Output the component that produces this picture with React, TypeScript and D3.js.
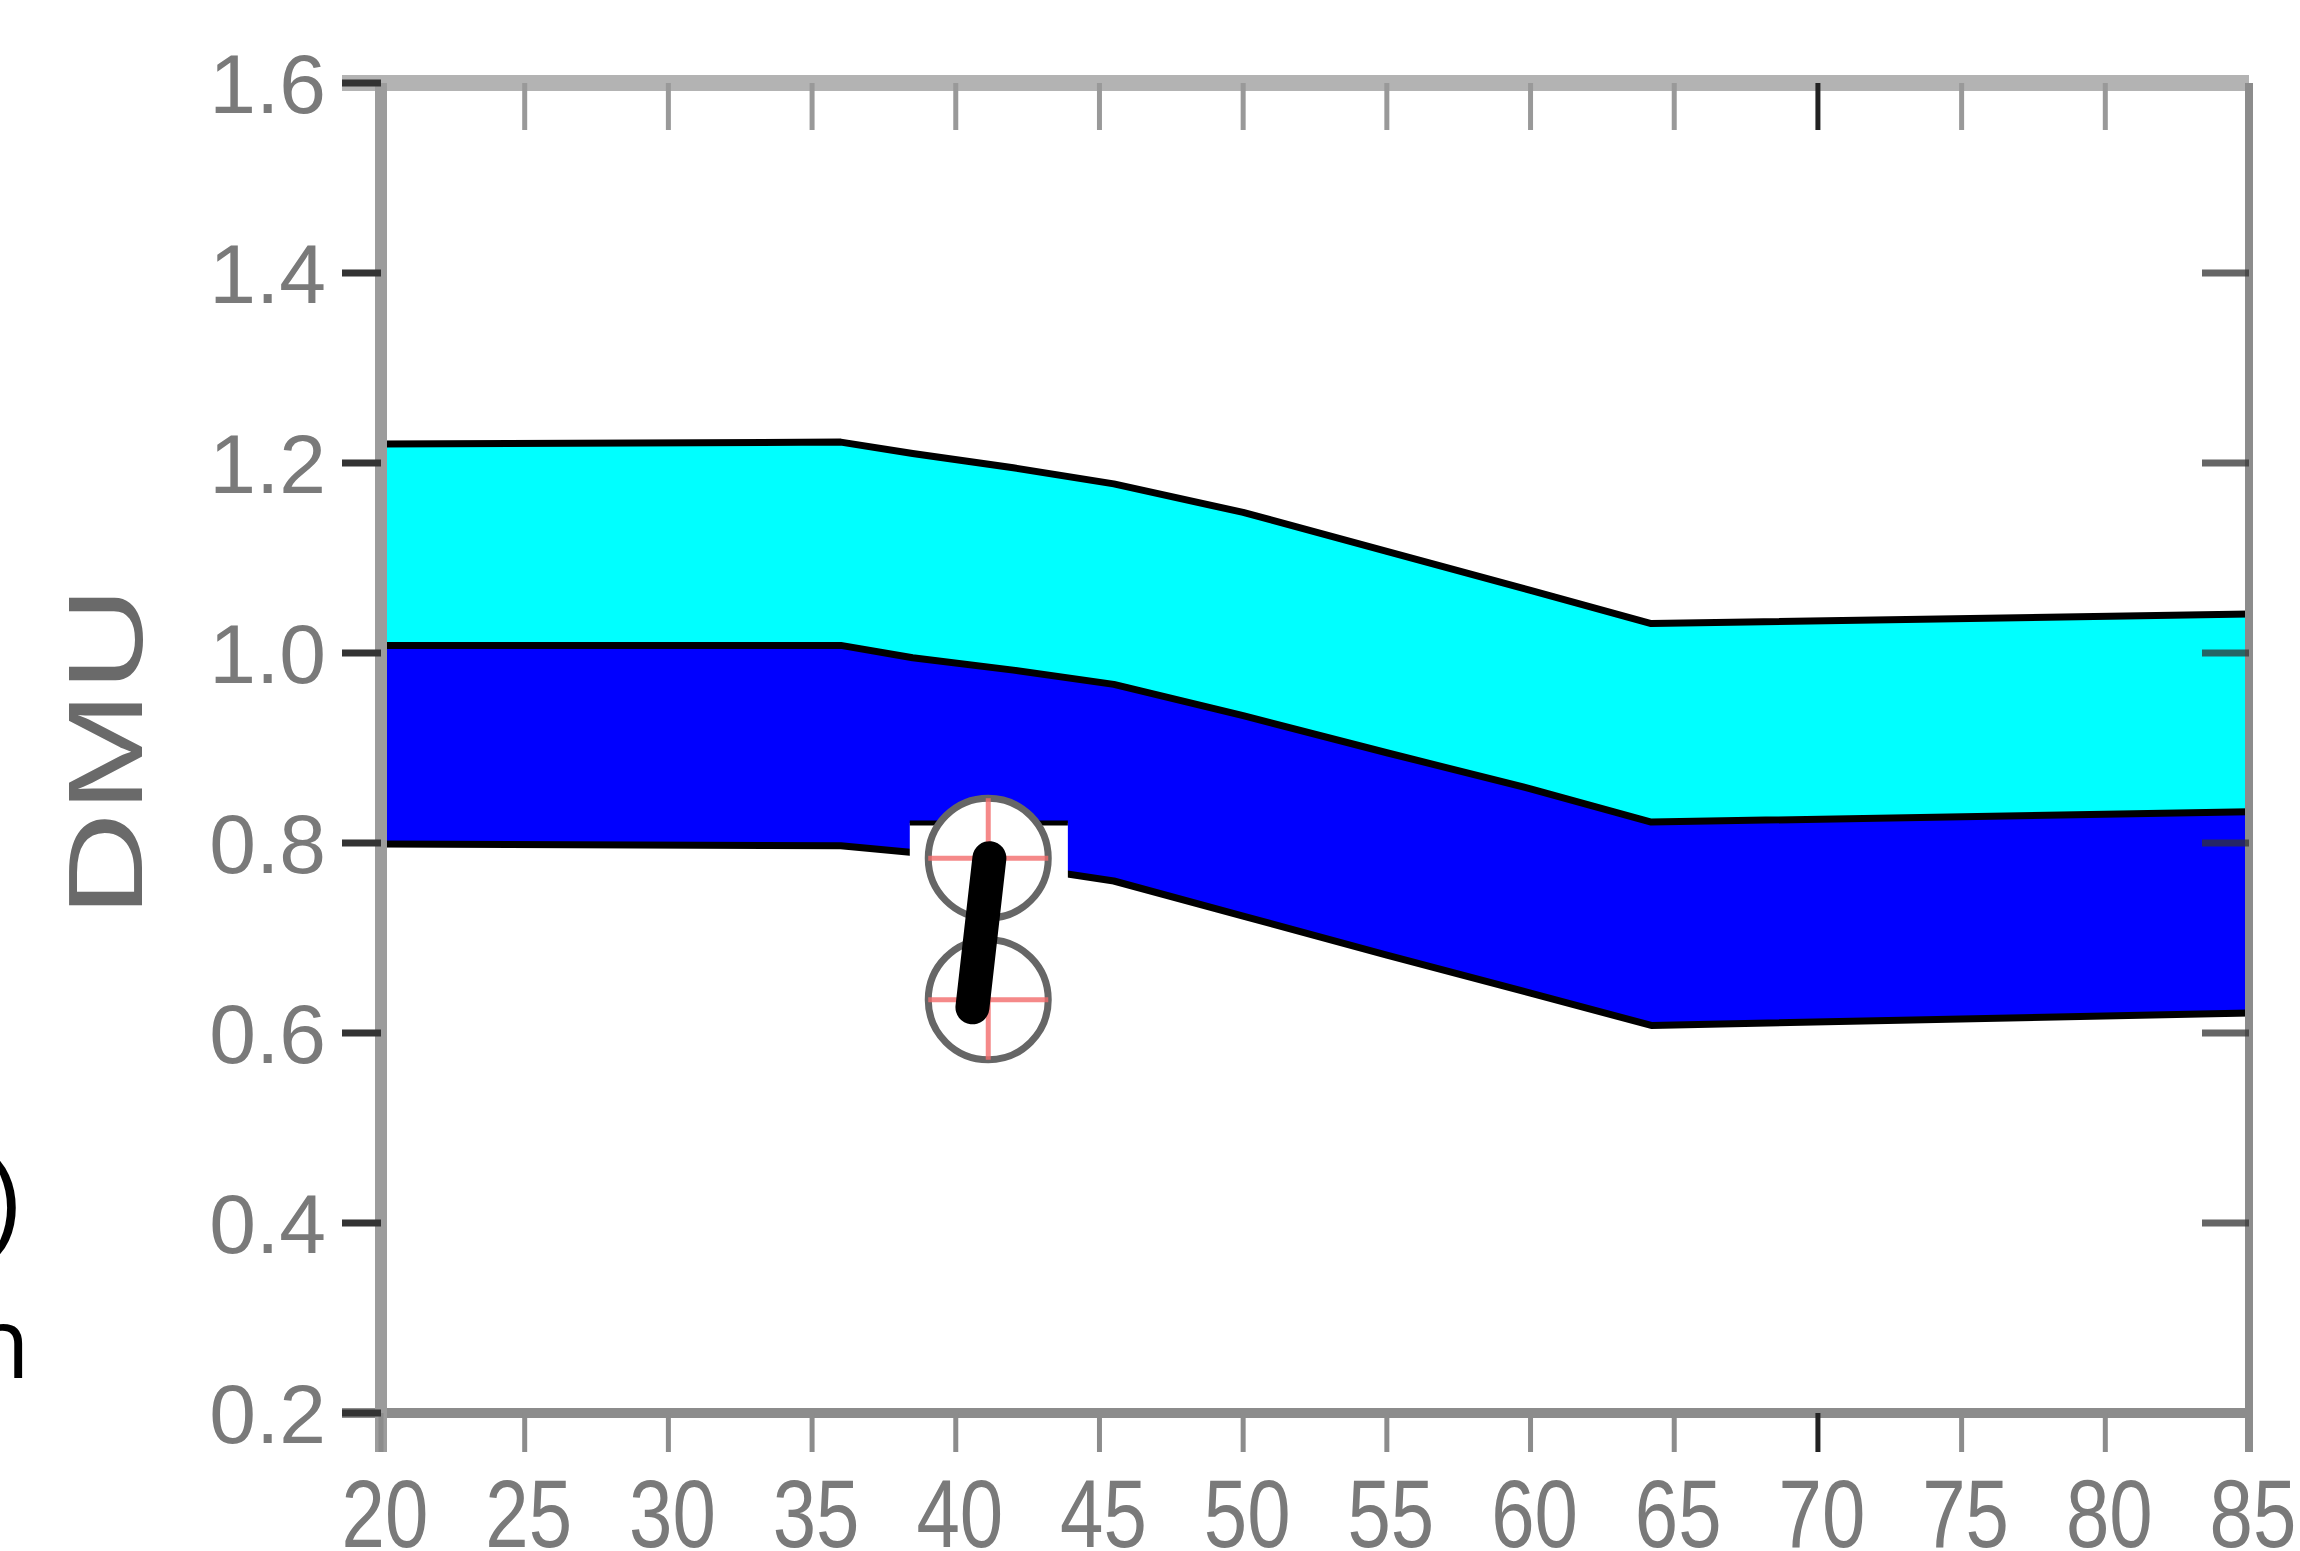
import React from 'react';
import * as d3 from 'd3';

const W = 2300;
const H = 1551;
// plot frame in pixels
const frame = { left: 381, right: 2249, top: 83, bottom: 1413 };

// band boundaries (x = age, y = DMU)
const ages = [20, 36, 38.5, 42, 45.5, 50, 55, 60, 64.2, 85];
const upperBound = [1.22, 1.222, 1.21, 1.195, 1.178, 1.148, 1.107, 1.066, 1.031, 1.041];
const middleBound = [1.008, 1.008, 0.995, 0.982, 0.967, 0.934, 0.895, 0.857, 0.822, 0.833];
const lowerBound = [0.799, 0.797, 0.79, 0.776, 0.76, 0.723, 0.682, 0.642, 0.608, 0.621];

const xTicks = [20, 25, 30, 35, 40, 45, 50, 55, 60, 65, 70, 75, 80, 85];
const yTicks = [0.2, 0.4, 0.6, 0.8, 1.0, 1.2, 1.4, 1.6];

// the two pasted-in markers and the bar that joins them
const markerAges = [41.13, 41.13];
const markerValues = [0.784, 0.635];
const barAges = [41.17, 40.58];
const barValues = [0.784, 0.627];
// white patch behind the markers
const patchAges = [38.4, 43.9];
const patchValues = [0.821, 0.7];

export default function App() {
  const x = d3.scaleLinear().domain([20, 85]).range([frame.left, frame.right]);
  const y = d3.scaleLinear().domain([0.2, 1.6]).range([frame.bottom, frame.top]);

  const rows = ages.map((a, i) => ({
    age: a,
    up: upperBound[i],
    mid: middleBound[i],
    low: lowerBound[i],
  }));

  const cyanArea = d3
    .area<any>()
    .x(d => x(d.age))
    .y0(d => y(d.mid))
    .y1(d => y(d.up));
  const blueArea = d3
    .area<any>()
    .x(d => x(d.age))
    .y0(d => y(d.low))
    .y1(d => y(d.mid));
  const edge = (key: string) =>
    d3
      .line<any>()
      .x(d => x(d.age))
      .y(d => y(d[key]))(rows) as string;

  const r = 60;
  const tickFont = "'Liberation Sans', Arial, sans-serif";

  return (
    <svg
      width={W}
      height={H}
      style={{ position: 'absolute', left: 0, top: 0, background: '#fff' }}
    >
      <rect x={0} y={0} width={W} height={H} fill="#fff" />

      {/* bands */}
      <path d={cyanArea(rows) as string} fill="#00ffff" />
      <path d={blueArea(rows) as string} fill="#0000ff" />
      {['up', 'mid', 'low'].map(k => (
        <path key={k} d={edge(k)} fill="none" stroke="#000" strokeWidth={7} strokeLinejoin="round" />
      ))}

      {/* white patch behind the markers */}
      <rect
        x={x(patchAges[0])}
        y={y(patchValues[0])}
        width={x(patchAges[1]) - x(patchAges[0])}
        height={y(patchValues[1]) - y(patchValues[0])}
        fill="#fff"
      />
      <line
        x1={x(patchAges[0])}
        x2={x(patchAges[1])}
        y1={y(patchValues[0])}
        y2={y(patchValues[0])}
        stroke="#000"
        strokeWidth={5}
      />

      {/* markers */}
      {markerAges.map((a, i) => {
        const cx = x(a);
        const cy = y(markerValues[i]);
        return (
          <g key={i}>
            <circle cx={cx} cy={cy} r={r} fill="#fff" stroke="#666" strokeWidth={7} />
            <line x1={cx - r} x2={cx + r} y1={cy} y2={cy} stroke="#f26b6b" strokeOpacity={0.8} strokeWidth={5} />
            <line x1={cx} x2={cx} y1={cy - r} y2={cy + r} stroke="#f26b6b" strokeOpacity={0.8} strokeWidth={5} />
          </g>
        );
      })}
      <line
        x1={x(barAges[0])}
        y1={y(barValues[0])}
        x2={x(barAges[1])}
        y2={y(barValues[1])}
        stroke="#000"
        strokeWidth={34}
        strokeLinecap="round"
      />

      {/* frame */}
      <line x1={frame.left - 39} x2={frame.right} y1={frame.top} y2={frame.top} stroke="#b3b3b3" strokeWidth={16} />
      <line x1={frame.left - 39} x2={frame.right} y1={frame.bottom} y2={frame.bottom} stroke="#8c8c8c" strokeWidth={10} />
      <line x1={frame.left} x2={frame.left} y1={frame.top} y2={frame.bottom + 39} stroke="#9c9c9c" strokeWidth={12} />
      <line x1={frame.right} x2={frame.right} y1={frame.top} y2={frame.bottom + 39} stroke="#8c8c8c" strokeWidth={8} />

      {/* x ticks, bottom and top */}
      {xTicks.map(t => (
        <g key={t}>
          <line
            x1={x(t)}
            x2={x(t)}
            y1={frame.bottom}
            y2={frame.bottom + 39}
            stroke={t === 70 ? '#222' : '#8c8c8c'}
            strokeWidth={5}
          />
          {t > 20 && t < 85 && (
            <line
              x1={x(t)}
              x2={x(t)}
              y1={frame.top}
              y2={frame.top + 47}
              stroke={t === 70 ? '#222' : '#999'}
              strokeWidth={5}
            />
          )}
          <text
            transform={`translate(${x(t) + 4},${1547}) scale(1,1.24)`}
            textAnchor="middle"
            fontFamily={tickFont}
            fontSize={78}
            fill="#7a7a7a"
          >
            {t}
          </text>
        </g>
      ))}

      {/* y ticks, left and right */}
      {yTicks.map(t => (
        <g key={t}>
          <line x1={frame.left - 39} x2={frame.left} y1={y(t)} y2={y(t)} stroke="#333" strokeWidth={7} />
          {t > 0.2 && t < 1.6 && (
            <line
              x1={frame.right - 47}
              x2={frame.right}
              y1={y(t)}
              y2={y(t)}
              stroke="#333"
              strokeOpacity={0.75}
              strokeWidth={7}
            />
          )}
          <text
            x={326}
            y={y(t)}
            dy="0.36em"
            textAnchor="end"
            fontFamily={tickFont}
            fontSize={84}
            fill="#7a7a7a"
          >
            {t.toFixed(1)}
          </text>
        </g>
      ))}

      {/* y axis title */}
      <text
        transform={`translate(142,752) rotate(-90) scale(1.37,1)`}
        textAnchor="middle"
        fontFamily={tickFont}
        fontSize={106}
        fill="#6a6a6a"
      >
        DMU
      </text>

      {/* text cut off at the left edge */}
      <text x={20} y={1237} textAnchor="end" fontFamily="'Open Sans', sans-serif" fontSize={106} fill="#000">
        )
      </text>
      <text x={30} y={1378} textAnchor="end" fontFamily="'Open Sans', sans-serif" fontSize={98} fill="#000">
        n
      </text>
    </svg>
  );
}
